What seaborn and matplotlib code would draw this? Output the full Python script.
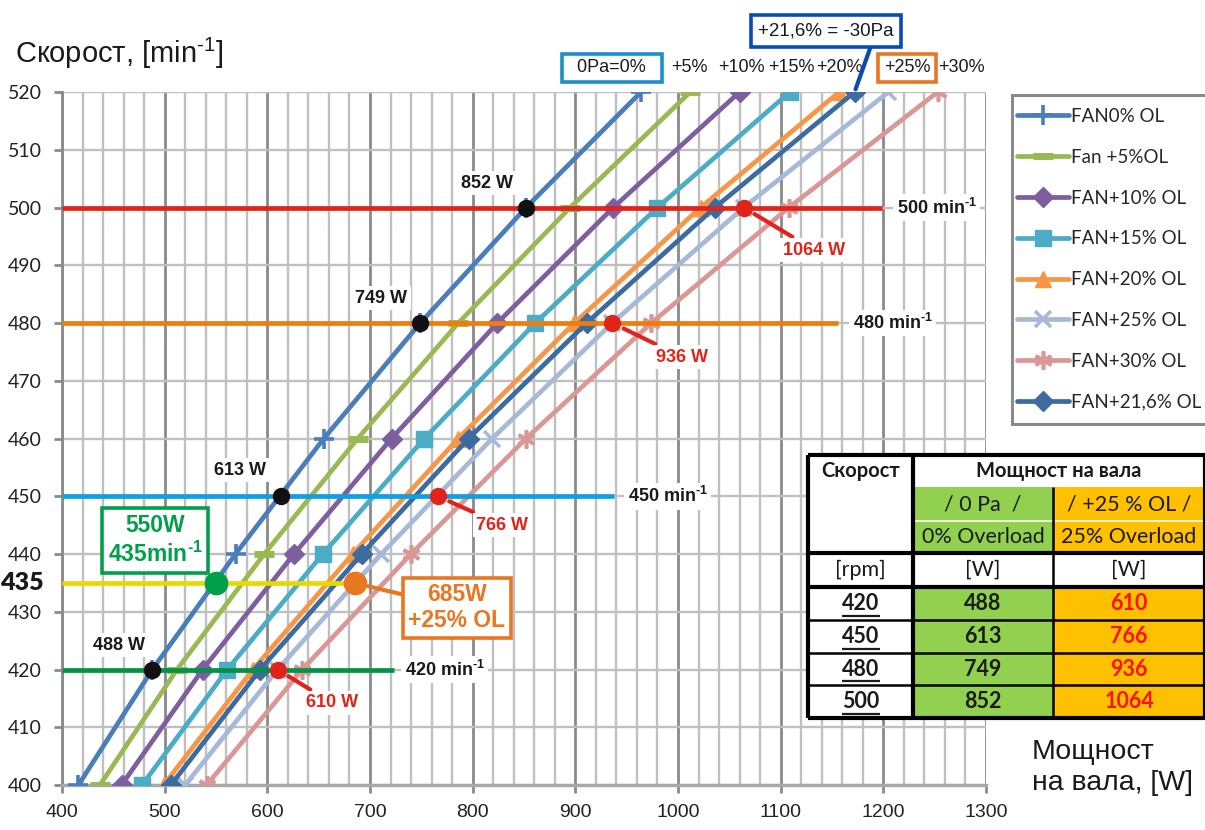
import numpy as np
import pandas as pd
import matplotlib
matplotlib.use("Agg")
import matplotlib.pyplot as plt
from matplotlib.patches import Rectangle
import seaborn as sns

# ---- data -------------------------------------------------------------
speed = [400, 420, 440, 460, 480, 500, 520]          # min^-1

fan_0 = [416, 488, 569, 655, 749, 852, 964]          # shaft power, W
fan_5 = [437, 512, 597, 688, 786, 895, 1012]
fan_10 = [458, 537, 626, 721, 824, 937, 1060]
fan_15 = [478, 561, 654, 753, 861, 980, 1109]
fan_20 = [499, 586, 683, 786, 899, 1022, 1157]
fan_25 = [520, 610, 711, 819, 936, 1064, 1205]
fan_30 = [541, 634, 740, 852, 974, 1108, 1253]
fan_216 = [506, 593, 692, 796, 911, 1036, 1172]

series_labels = ["FAN0% OL", "Fan +5%OL", "FAN+10% OL", "FAN+15% OL",
                 "FAN+20% OL", "FAN+25% OL", "FAN+30% OL", "FAN+21,6% OL"]

table_speed = [420, 450, 480, 500]
power_0pa = [488, 613, 749, 852]
power_25ol = [610, 766, 936, 1064]

op_speed = 435
op_power_0pa = 550
op_power_25ol = 685

top_labels = ["0Pa=0%", "+5%", "+10%", "+15%", "+20%", "+25%", "+30%"]

# ---- style ------------------------------------------------------------
sns.set_style("white")
plt.rcParams["font.family"] = ["Liberation Sans", "DejaVu Sans"]
plt.rcParams["mathtext.default"] = "regular"
SUP = "$^{\u2010" + "1}$"   # superscript "-1" with a short hyphen

fig = plt.figure(figsize=(12.05, 8.3), dpi=100)
ax = fig.add_axes([62 / 1205, 45 / 830, 924 / 1205, 693 / 830])

ax.set_xlim(400, 1300)
ax.set_ylim(400, 520)

minor_grey = "#C0C0C0"
major_grey = "#8A8A8A"

ax.set_xticks(np.arange(400, 1301, 100))
ax.set_xticks(np.arange(400, 1301, 20), minor=True)
ax.set_yticks(np.arange(400, 521, 10))
ax.grid(which="minor", axis="x", color=minor_grey, lw=1.7, zorder=0)
ax.grid(which="major", axis="x", color=major_grey, lw=2.0, zorder=0)
ax.grid(which="major", axis="y", color=minor_grey, lw=1.7, zorder=0)
ax.set_axisbelow(True)

for s in ["top", "right"]:
    ax.spines[s].set_visible(False)
ax.spines["left"].set_color(major_grey)
ax.spines["left"].set_linewidth(2.0)
ax.spines["bottom"].set_color("#A8A8A8")
ax.spines["bottom"].set_linewidth(2.4)

ax.tick_params(axis="x", which="major", length=5.5, width=2.0, color=major_grey,
               pad=8, labelsize=14)
ax.tick_params(axis="x", which="minor", length=0)
ax.tick_params(axis="y", which="major", length=5.5, width=2.0, color=major_grey,
               pad=9, labelsize=14)
ax.tick_params(left=True, bottom=True)
for lab in ax.get_xticklabels():
    lab.set_family(["Liberation Sans Narrow", "Liberation Sans"])
    lab.set_color("#222222")
for lab in ax.get_yticklabels():
    lab.set_family(["Lato", "DejaVu Sans"])
    lab.set_color("#222222")

# ---- fan curves -------------------------------------------------------
curves = [
    (fan_0, "#4A7EBB", "+", 15, 2.6),
    (fan_5, "#98B954", "_", 14, 5.0),
    (fan_10, "#7D5FA0", "D", 10, 1.0),
    (fan_15, "#4BACC6", "s", 12, 1.0),
    (fan_20, "#F79646", "^", 11, 1.0),
    (fan_25, "#A7B9D9", "x", 11, 2.6),
    (fan_30, "#D99795", (6, 2, 0), 13, 2.6),
    (fan_216, "#3D6A9F", "D", 10, 1.0),
]
handles = []
for (vals, col, mk, ms, mew), name in zip(curves, series_labels):
    df = pd.DataFrame({"power": vals, "speed": speed})
    sns.lineplot(data=df, x="power", y="speed", ax=ax, color=col, lw=3.4,
                 marker=mk, markersize=ms, mew=mew, mec=col, mfc=col,
                 estimator=None, sort=False, legend=False, zorder=3)
    line = ax.lines[-1]
    line.set_label(name)
    handles.append(line)
ax.set_xlabel("")
ax.set_ylabel("")

# ---- reference speeds -------------------------------------------------
ref_lines = [
    (500, 1199, "#E2231A", 1213),
    (480, 1156, "#EE7D11", 1170),
    (450, 938, "#0FA0E0", 951),
    (420, 723, "#009444", 734),
]
for lvl, x_end, col, x_lab in ref_lines:
    ax.hlines(lvl, 400, x_end, color=col, lw=3.4, zorder=4)
    ax.text(x_lab, lvl, f"{lvl} min" + SUP, fontsize=13, weight="bold",
            ha="left", va="center", color="#1A1A1A", zorder=6,
            bbox=dict(fc="white", ec="none", pad=2.5))
ax.hlines(op_speed, 400, op_power_25ol, color="#E6DA00", lw=3.4, zorder=4)

# black points: 0 Pa
black_pos = [(456, 424.2), (573, 454.5), (711, 484.3), (814, 504.2)]
for p, n, (tx, ty) in zip(power_0pa, table_speed, black_pos):
    ax.plot(p, n, "o", color="#111111", ms=11.5, zorder=5)
    ax.text(tx, ty, f"{p} W", fontsize=13, weight="bold", color="#1A1A1A",
            ha="center", va="center", zorder=6,
            bbox=dict(fc="white", ec="none", pad=2.5))

# red points: +25 % overload
red_pos = [(663, 414.2), (829, 445.0), (1004, 474.1), (1133, 492.6)]
for p, n, (tx, ty) in zip(power_25ol, table_speed, red_pos):
    ax.plot(p, n, "o", color="#E2231A", ms=11.5, zorder=5)
    ax.annotate(f"{p} W", xy=(p, n), xytext=(tx, ty), fontsize=13,
                weight="bold", color="#E2231A", ha="center", va="center",
                zorder=6, bbox=dict(fc="white", ec="none", pad=2.5),
                arrowprops=dict(arrowstyle="-", color="#E2231A", lw=3,
                                shrinkA=2, shrinkB=9))

# operating point 435 min^-1
ax.plot(op_power_0pa, op_speed, "o", color="#00A04A", ms=16, zorder=5)
ax.text(490.6, 442.3, f"{op_power_0pa}W\n{op_speed}min" + SUP, fontsize=16.5,
        weight="bold", color="#00A04A", ha="center", va="center",
        linespacing=1.25, zorder=6,
        bbox=dict(boxstyle="square,pad=0.25", fc="white", ec="#00A04A", lw=2.6))
ax.plot(op_power_25ol, op_speed, "o", color="#E87722", ms=16, zorder=5)
ax.annotate(f"{op_power_25ol}W\n+25% OL", xy=(op_power_25ol, op_speed),
            xytext=(784.6, 430.7), fontsize=16.5, weight="bold", color="#E87722",
            ha="center", va="center", linespacing=1.15, zorder=6,
            bbox=dict(boxstyle="square,pad=0.25", fc="white", ec="#E87722", lw=2.6),
            arrowprops=dict(arrowstyle="-", color="#E87722", lw=3,
                            shrinkA=0, shrinkB=10))
ax.text(-0.02, op_speed, str(op_speed), transform=ax.get_yaxis_transform(),
        fontsize=18, weight="heavy", family=["Lato", "DejaVu Sans"],
        ha="right", va="center", color="#1A1A1A")

# ---- curve tags above the plot ----------------------------------------
tag_x = [935.5, 1011.5, 1062, 1110, 1157.5, 1223, 1276]
tag_box = {"0Pa=0%": "#1B8FCE", "+25%": "#E87722"}
for txt, tx in zip(top_labels, tag_x):
    bb = None
    txt_draw = txt
    if txt in tag_box:
        bb = dict(boxstyle="square,pad=0.3", fc="white", ec=tag_box[txt], lw=2.6)
        if txt == "0Pa=0%":
            txt_draw = "  0Pa=0%  "
    ax.text(tx, 524.2, txt_draw, fontsize=13, ha="center", va="center",
            color="#1A1A1A", bbox=bb, clip_on=False, zorder=6)

ax.annotate("+21,6% = -30Pa", xy=(fan_216[-1], speed[-1]), xytext=(1144, 530.6),
            fontsize=13.5, ha="center", va="center", color="#1A1A1A",
            annotation_clip=False, zorder=6,
            bbox=dict(boxstyle="square,pad=0.4", fc="white", ec="#0B4AB5", lw=2.6),
            arrowprops=dict(arrowstyle="-", color="#0B4AB5", lw=3,
                            shrinkA=0, shrinkB=2, relpos=(0.85, 0.0)))

# ---- axis titles ------------------------------------------------------
fig.text(15 / 1205, 1 - 53 / 830, "Скорост, [min" + SUP + "]", fontsize=21,
         ha="left", va="center", color="#1A1A1A")
fig.text(1032 / 1205, 1 - 767 / 830, "Мощност\nна вала, [W]", fontsize=20.5,
         ha="left", va="center", color="#1A1A1A", linespacing=1.25)

# ---- legend -----------------------------------------------------------
fig.patches.append(Rectangle((1012 / 1205, 1 - 424 / 830), 210 / 1205, 329 / 830,
                             transform=fig.transFigure, fc="white",
                             ec="#8A8A8A", lw=2.2, zorder=1))
leg = fig.legend(handles=handles, labels=series_labels, loc="upper left",
                 bbox_to_anchor=(1017 / 1205, 1 - 108 / 830), frameon=False,
                 prop={"family": ["Lato", "DejaVu Sans"], "size": 13.5},
                 handlelength=2.75, handletextpad=0.15, labelspacing=1.27,
                 borderpad=0, borderaxespad=0)

# ---- summary table ----------------------------------------------------
tx0, tx1, tx2, tx3 = 808, 913, 1053, 1205
ty = [455, 487, 521, 553, 587, 620, 653, 685, 718]
tab = fig.add_axes([tx0 / 1205, 1 - ty[-1] / 830, (tx3 - tx0) / 1205,
                    (ty[-1] - ty[0]) / 830])
tab.set_xlim(tx0, tx3)
tab.set_ylim(ty[-1], ty[0])
tab.axis("off")

green = "#92D050"
amber = "#FFC000"
tab.add_patch(Rectangle((tx0, ty[0]), tx3 - tx0, ty[-1] - ty[0], fc="white", ec="none"))
tab.add_patch(Rectangle((tx1, ty[1]), tx2 - tx1, ty[3] - ty[1], fc=green, ec="none"))
tab.add_patch(Rectangle((tx2, ty[1]), tx3 - tx2, ty[3] - ty[1], fc=amber, ec="none"))
tab.add_patch(Rectangle((tx1, ty[4]), tx2 - tx1, ty[8] - ty[4], fc=green, ec="none"))
tab.add_patch(Rectangle((tx2, ty[4]), tx3 - tx2, ty[8] - ty[4], fc=amber, ec="none"))
tab.hlines(ty[2], tx1, tx3, color="white", lw=1.2)

thick, thin = 3.0, 1.8
tab.hlines([ty[0], ty[3], ty[4], ty[8]], tx0, tx3, color="black", lw=thick, clip_on=False)
tab.hlines(ty[5:8], tx0, tx3, color="black", lw=thin)
tab.vlines([tx0, tx1], ty[0], ty[8], color="black", lw=thick, clip_on=False)
tab.vlines(tx3, ty[0], ty[8], color="black", lw=thick, clip_on=False)
tab.vlines(tx2, ty[1], ty[8], color="black", lw=thin)

cf = ["Lato", "DejaVu Sans"]
cx1, cx2, cx3 = (tx0 + tx1) / 2, (tx1 + tx2) / 2, (tx2 + tx3) / 2
tab.text(cx1, (ty[0] + ty[1]) / 2, "Скорост", family=cf, weight="bold", fontsize=14.5,
         ha="center", va="center", color="#1A1A1A")
tab.text((tx1 + tx3) / 2, (ty[0] + ty[1]) / 2, "Мощност на вала", family=cf,
         weight="bold", fontsize=14.5, ha="center", va="center", color="#1A1A1A")
tab.text(cx2, (ty[1] + ty[2]) / 2, "/ 0 Pa  /", family=cf, fontsize=15.5,
         ha="center", va="center", color="#1A1A1A")
tab.text(cx3, (ty[1] + ty[2]) / 2, "/ +25 % OL /", family=cf, fontsize=15.5,
         ha="center", va="center", color="#1A1A1A")
tab.text(cx2, (ty[2] + ty[3]) / 2, "0% Overload", family=cf, fontsize=15.5,
         ha="center", va="center", color="#1A1A1A")
tab.text(cx3, (ty[2] + ty[3]) / 2, "25% Overload", family=cf, fontsize=15.5,
         ha="center", va="center", color="#1A1A1A")
for cx, t in ((cx1, "[rpm]"), (cx2, "[W]"), (cx3, "[W]")):
    tab.text(cx, (ty[3] + ty[4]) / 2, t, family=cf, fontsize=15.5,
             ha="center", va="center", color="#1A1A1A")
for i, (n, p0, p25) in enumerate(zip(table_speed, power_0pa, power_25ol)):
    yc = (ty[4 + i] + ty[5 + i]) / 2
    tab.text(cx1, yc, str(n), family=cf, weight="bold", fontsize=15.5,
             ha="center", va="center", color="#1A1A1A")
    tab.hlines(yc + 12, cx1 - 19, cx1 + 19, color="#1A1A1A", lw=1.6)
    tab.text(cx2, yc, str(p0), family=cf, weight="bold", fontsize=15.5,
             ha="center", va="center", color="#1A1A1A")
    tab.text(cx3, yc, str(p25), family=cf, weight="bold", fontsize=15.5,
             ha="center", va="center", color="#FF1010")

fig.savefig("out.png", dpi=100)
